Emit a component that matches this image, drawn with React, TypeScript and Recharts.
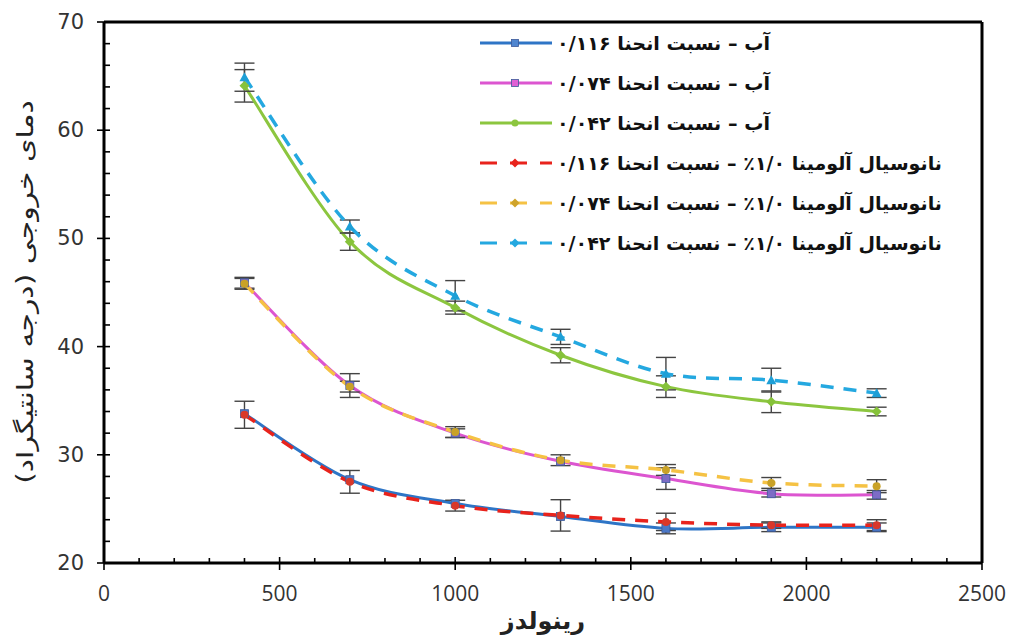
import React from 'react';
import {
  LineChart,
  Line,
  XAxis,
  YAxis,
  Legend,
  ErrorBar,
  ReferenceLine,
} from 'recharts';

// Reynolds numbers tested
const reynolds = [400, 700, 1000, 1300, 1600, 1900, 2200];

// outlet temperature (°C), water
const water116 = [33.8, 27.7, 25.5, 24.3, 23.2, 23.3, 23.3];
const water074 = [45.9, 36.4, 32.0, 29.4, 27.8, 26.4, 26.3];
const water042 = [64.1, 49.7, 43.6, 39.2, 36.3, 34.9, 34.0];

// outlet temperature (°C), 0.1% alumina nanofluid
const nano116 = [33.7, 27.5, 25.3, 24.4, 23.8, 23.5, 23.5];
const nano074 = [45.8, 36.3, 32.1, 29.5, 28.6, 27.4, 27.1];
const nano042 = [64.9, 51.1, 44.7, 40.9, 37.5, 36.9, 35.7];

// error bar half-widths
const errWater116 = [0, 0, 0, 0, 0.5, 0.4, 0.4];
const errWater074 = [0.5, 1.1, 0.4, 0, 1.0, 0.3, 0.4];
const errWater042 = [1.5, 0.8, 0.6, 0.7, 1.0, 1.0, 0.4];
const errNano116 = [1.25, 1.05, 0.5, 1.45, 0.8, 0.3, 0.5];
const errNano074 = [0.5, 0.5, 0.5, 0.5, 0.5, 0.5, 0.6];
const errNano042 = [1.3, 0.6, 1.4, 0.7, 1.5, 1.1, 0.4];

const xTicks = [0, 100, 200, 300, 400, 500, 600, 700, 800, 900, 1000, 1100, 1200, 1300, 1400, 1500, 1600, 1700, 1800, 1900, 2000, 2100, 2200, 2300, 2400, 2500];
const yTicks = [20, 22, 24, 26, 28, 30, 32, 34, 36, 38, 40, 42, 44, 46, 48, 50, 52, 54, 56, 58, 60, 62, 64, 66, 68, 70];

const legendLabels = [
  'آب – نسبت انحنا ۰/۱۱۶',
  'آب – نسبت انحنا ۰/۰۷۴',
  'آب – نسبت انحنا ۰/۰۴۲',
  'نانوسیال آلومینا ۱/۰٪ – نسبت انحنا ۰/۱۱۶',
  'نانوسیال آلومینا ۱/۰٪ – نسبت انحنا ۰/۰۷۴',
  'نانوسیال آلومینا ۱/۰٪ – نسبت انحنا ۰/۰۴۲',
];

const rows = reynolds.map((re, i) => ({
  re,
  w116: water116[i],
  w074: water074[i],
  w042: water042[i],
  n116: nano116[i],
  n074: nano074[i],
  n042: nano042[i],
  ew116: errWater116[i],
  ew074: errWater074[i],
  ew042: errWater042[i],
  en116: errNano116[i],
  en074: errNano074[i],
  en042: errNano042[i],
}));

// Catmull-Rom style smoothing (like spreadsheet "smoothed line"), passed to <Line type>
const smoothCurve = (context: any) => {
  let pts: number[][] = [];
  return {
    areaStart() {},
    areaEnd() {},
    lineStart() {
      pts = [];
    },
    point(x: number, y: number) {
      pts.push([+x, +y]);
    },
    lineEnd() {
      if (!pts.length) return;
      context.moveTo(pts[0][0], pts[0][1]);
      for (let i = 0; i < pts.length - 1; i++) {
        const p0 = pts[i - 1] || pts[i];
        const p1 = pts[i];
        const p2 = pts[i + 1];
        const p3 = pts[i + 2] || p2;
        context.bezierCurveTo(
          p1[0] + (p2[0] - p0[0]) / 6,
          p1[1] + (p2[1] - p0[1]) / 6,
          p2[0] - (p3[0] - p1[0]) / 6,
          p2[1] - (p3[1] - p1[1]) / 6,
          p2[0],
          p2[1],
        );
      }
    },
  };
};

type Shape = 'square' | 'circle' | 'diamond' | 'triangle';

const series = [
  { key: 'w116', err: 'ew116', color: '#2E75C6', dashed: false, shape: 'square' as Shape, dotFill: '#4A78C8', legendShape: 'square' as Shape, legendFill: '#4F86D0' },
  { key: 'w074', err: 'ew074', color: '#DC55D0', dashed: false, shape: 'square' as Shape, dotFill: '#7D6CC6', legendShape: 'square' as Shape, legendFill: '#E060D4' },
  { key: 'w042', err: 'ew042', color: '#8CC63F', dashed: false, shape: 'diamond' as Shape, dotFill: '#86C23A', legendShape: 'circle' as Shape, legendFill: '#8CC63F' },
  { key: 'n116', err: 'en116', color: '#E8231C', dashed: true, shape: 'circle' as Shape, dotFill: '#D9382A', legendShape: 'diamond' as Shape, legendFill: '#E8231C' },
  { key: 'n074', err: 'en074', color: '#F5C244', dashed: true, shape: 'circle' as Shape, dotFill: '#C9A227', legendShape: 'diamond' as Shape, legendFill: '#CFA32A' },
  { key: 'n042', err: 'en042', color: '#24A8E0', dashed: true, shape: 'triangle' as Shape, dotFill: '#1E9FD6', legendShape: 'diamond' as Shape, legendFill: '#24A8E0' },
];

const Marker = ({ cx, cy, shape, fill, size = 8 }: { cx: number; cy: number; shape: Shape; fill: string; size?: number }) => {
  const h = size / 2;
  if (shape === 'square') {
    return <rect x={cx - h} y={cy - h} width={size} height={size} fill={fill} stroke="#3C5A9A" strokeWidth={0.8} />;
  }
  if (shape === 'circle') {
    return <circle cx={cx} cy={cy} r={h} fill={fill} />;
  }
  if (shape === 'diamond') {
    return <polygon points={`${cx},${cy - h - 1} ${cx + h + 1},${cy} ${cx},${cy + h + 1} ${cx - h - 1},${cy}`} fill={fill} />;
  }
  return <polygon points={`${cx},${cy - h - 1} ${cx + h + 1},${cy + h} ${cx - h - 1},${cy + h}`} fill={fill} />;
};

const XTick = (props: any) => {
  const { x, y, payload } = props;
  const major = payload.value % 500 === 0;
  return (
    <g>
      <line x1={x} x2={x} y1={y - (major ? 6 : 5)} y2={major ? y + 7 : y} stroke="#000" strokeWidth={1.6} />
      {major && (
        <text x={x} y={y + 38} textAnchor="middle" fontSize={21} fill="#333" fontFamily="'Liberation Sans Narrow', 'Open Sans', sans-serif">
          {payload.value}
        </text>
      )}
    </g>
  );
};

const YTick = (props: any) => {
  const { x, y, payload } = props;
  const major = payload.value % 10 === 0;
  return (
    <g>
      <line x1={major ? x - 7 : x} x2={x + 6} y1={y} y2={y} stroke="#000" strokeWidth={1.6} />
      {major && (
        <text x={x - 20} y={y} textAnchor="end" dominantBaseline="central" fontSize={21} fill="#333" fontFamily="'DejaVu Sans', sans-serif">
          {payload.value}
        </text>
      )}
    </g>
  );
};

// legend lines and labels, drawn as one svg block
const LegendBox = () => (
  <svg width={500} height={250} style={{ overflow: 'visible' }}>
    {series.map((s, i) => {
      const cy = 20 + i * 40;
      return (
        <g key={s.key}>
          <line
            x1={2}
            x2={74}
            y1={cy}
            y2={cy}
            stroke={s.color}
            strokeWidth={3}
            strokeDasharray={s.dashed ? '17 13' : undefined}
          />
          <Marker cx={37} cy={cy} shape={s.legendShape} fill={s.legendFill} size={7} />
          <text
            x={79}
            y={cy}
            dominantBaseline="central"
            fontSize={19}
            fontWeight={700}
            fill="#111"
            fontFamily="'DejaVu Sans', sans-serif"
            textLength={s.dashed ? 385 : 213}
            lengthAdjust="spacingAndGlyphs"
          >
            {legendLabels[i]}
          </text>
        </g>
      );
    })}
  </svg>
);

export default function App() {
  return (
    <div style={{ position: 'absolute', left: 0, top: 0, width: 1014, height: 642, background: '#fff' }}>
      <LineChart
        width={1014}
        height={642}
        data={rows}
        margin={{ top: 22, right: 32, bottom: 39, left: 44 }}
      >
        <XAxis
          dataKey="re"
          type="number"
          domain={[0, 2500]}
          ticks={xTicks}
          interval={0}
          tick={<XTick />}
          tickLine={false}
          tickSize={0}
          tickMargin={0}
          axisLine={{ stroke: '#000', strokeWidth: 3 }}
          height={40}
          label={{
            content: (p: any) => (
              <text
                x={p.viewBox.x + p.viewBox.width / 2}
                y={629}
                textAnchor="middle"
                fontSize={24}
                fontWeight={700}
                fill="#222"
                fontFamily="'DejaVu Sans', sans-serif"
              >
                رینولدز
              </text>
            ),
          }}
        />
        <YAxis
          type="number"
          domain={[20, 70]}
          ticks={yTicks}
          interval={0}
          tick={<YTick />}
          tickLine={false}
          tickSize={0}
          tickMargin={0}
          axisLine={{ stroke: '#000', strokeWidth: 3 }}
          width={60}
          label={{
            content: () => (
              <text
                x={0}
                y={0}
                transform="translate(25 292) rotate(-90) scale(1.3 1)"
                textAnchor="middle"
                dominantBaseline="central"
                fontSize={23}
                fill="#222"
                fontFamily="'DejaVu Sans', sans-serif"
              >
                دمای خروجی  (درجه سانتیگراد)
              </text>
            ),
          }}
        />
        <ReferenceLine y={70} stroke="#000" strokeWidth={3} />
        <ReferenceLine x={2500} stroke="#000" strokeWidth={3} />
        <Legend
          layout="vertical"
          align="center"
          verticalAlign="middle"
          content={<LegendBox />}
          wrapperStyle={{ left: 478, top: 23, width: 500, height: 250 }}
        />
        {series.map((s) => (
          <Line
            key={s.key}
            dataKey={s.key}
            type={smoothCurve as any}
            stroke={s.color}
            strokeWidth={s.dashed ? 3.5 : 3}
            strokeDasharray={s.dashed ? '13 10' : undefined}
            isAnimationActive={false}
            legendType="none"
            dot={(p: any) => (
              <Marker key={`${s.key}-${p.index}`} cx={p.cx} cy={p.cy} shape={s.shape} fill={s.dotFill} />
            )}
            activeDot={false}
          >
            <ErrorBar dataKey={s.err} width={10} stroke="#444" strokeWidth={1.4} direction="y" isAnimationActive={false} />
          </Line>
        ))}
      </LineChart>
    </div>
  );
}
